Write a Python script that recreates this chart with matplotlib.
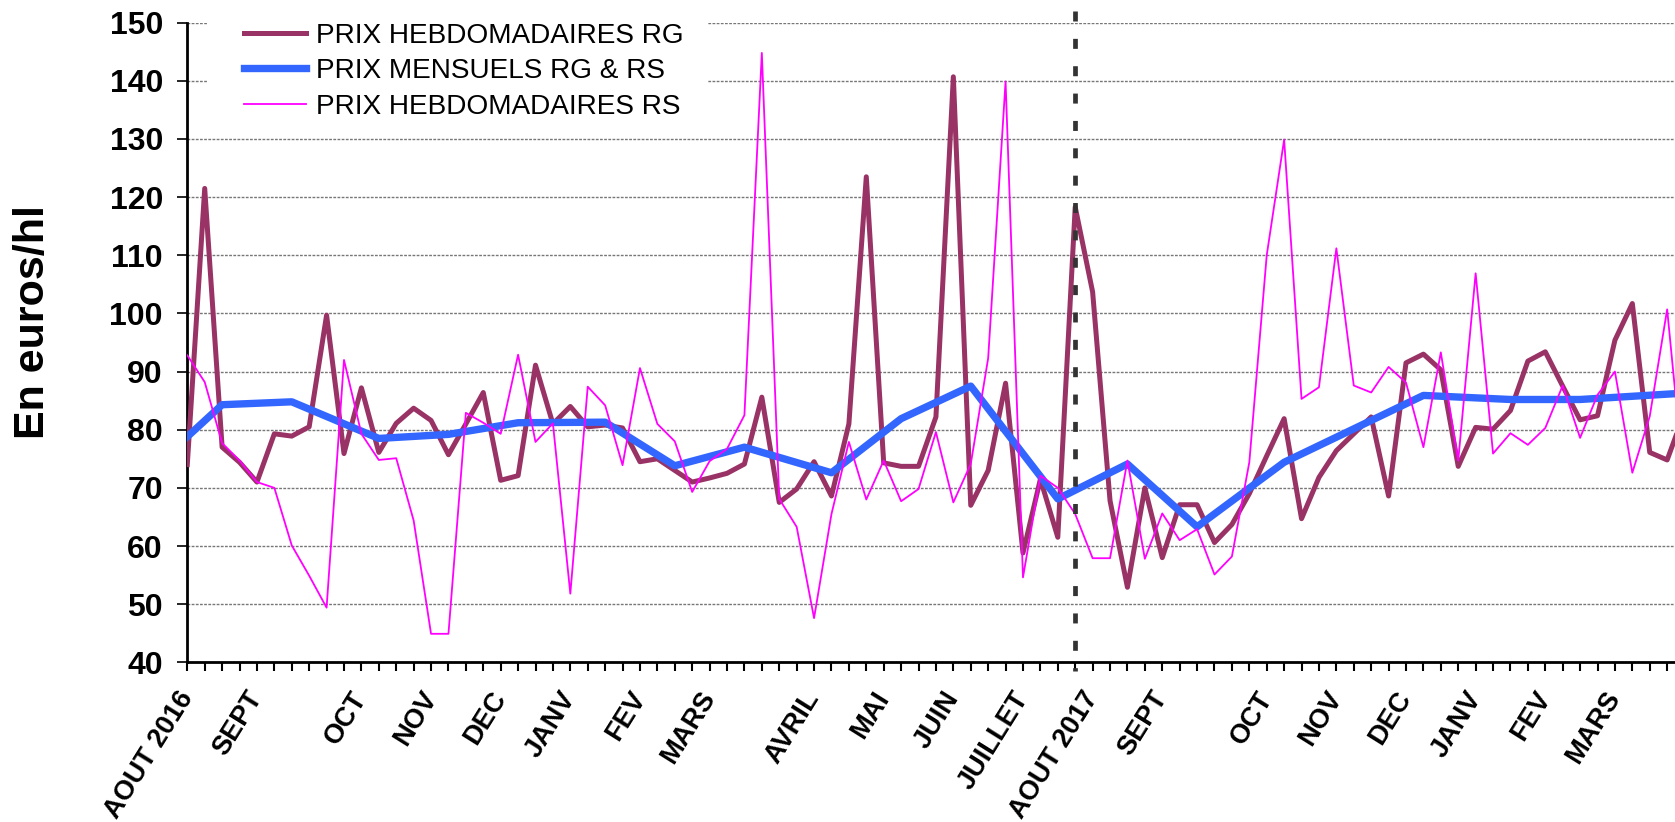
import numpy as np
import matplotlib
matplotlib.use("Agg")
from matplotlib import pyplot as plt
from matplotlib.patches import Rectangle

plt.rcParams['font.family'] = ['Liberation Sans', 'DejaVu Sans']
plt.rcParams['lines.scale_dashes'] = False

# prix hebdomadaires (une valeur par semaine, depuis aout 2016)
prix_rg = [74.0, 121.5, 77.0, 74.4, 71.0, 79.3, 78.9, 80.5, 99.7, 75.9,
           87.2, 76.1, 81.1, 83.7, 81.6, 75.7, 81.0, 86.4, 71.3, 72.1,
           91.1, 81.0, 84.0, 80.5, 80.8, 80.3, 74.5, 75.0, 73.0, 71.0,
           71.7, 72.5, 74.1, 85.6, 67.5, 69.8, 74.5, 68.6, 81.0, 123.5,
           74.3, 73.7, 73.7, 82.2, 140.7, 67.0, 73.0, 88.0, 58.8, 71.5,
           61.5, 118.3, 103.7, 67.8, 52.9, 70.0, 58.0, 67.1, 67.1, 60.6,
           63.7, 69.0, 75.5, 81.9, 64.7, 71.8, 76.4, 79.3, 82.2, 68.6,
           91.5, 93.0, 90.3, 73.7, 80.4, 80.1, 83.3, 91.8, 93.4, 87.5,
           81.7, 82.4, 95.4, 101.7, 76.1, 74.8, 83.0]

prix_rs = [92.8, 88.2, 77.7, 74.7, 71.0, 70.0, 60.1, 54.9, 49.4, 92.0,
           79.3, 74.8, 75.1, 64.4, 44.9, 44.9, 82.9, 81.2, 79.3, 92.9,
           77.9, 81.1, 51.8, 87.4, 84.2, 73.9, 90.6, 81.0, 78.0, 69.3,
           74.6, 76.7, 82.5, 144.8, 68.1, 63.3, 47.6, 65.5, 77.9, 68.0,
           74.7, 67.7, 69.8, 79.6, 67.5, 74.1, 92.3, 139.9, 54.6, 72.1,
           70.0, 65.5, 57.9, 57.9, 74.7, 57.8, 65.6, 61.0, 62.9, 55.1,
           58.2, 74.4, 110.0, 129.9, 85.3, 87.3, 111.2, 87.6, 86.4, 90.8,
           88.1, 77.0, 93.3, 74.7, 106.9, 75.9, 79.4, 77.4, 80.3, 87.6,
           78.6, 86.0, 90.0, 72.6, 82.3, 100.7, 70.0]

# prix mensuels : semaine ou le point est place
mens_sem = [0, 2, 6, 11, 15, 19, 24, 28, 32, 37, 41, 45, 50,
            54, 58, 63, 71, 76, 80, 86]
mens_prix = [78.8, 84.3, 84.8, 78.5, 79.2, 81.2, 81.3, 73.8, 77.0, 72.6, 81.9, 87.5, 68.1,
             74.1, 63.3, 74.4, 85.9, 85.2, 85.2, 86.3]

mois_sem = [0, 4, 10, 14, 18, 22, 26, 30, 36, 40, 44, 48,
            52, 56, 62, 66, 70, 74, 78, 82]
mois_lib = ['AOUT 2016', 'SEPT', 'OCT', 'NOV', 'DEC', 'JANV', 'FEV', 'MARS',
            'AVRIL', 'MAI', 'JUIN', 'JUILLET',
            'AOUT 2017', 'SEPT', 'OCT', 'NOV', 'DEC', 'JANV', 'FEV', 'MARS']
sem_coupure = 51

W, H = 1675, 822
fig = plt.figure(figsize=(W / 100, H / 100), dpi=100)
ax = fig.add_axes([187.3 / W, (H - 662.3) / H, (W - 187.3) / W, 639.6 / H])

sem = np.arange(len(prix_rg))
ax.plot(sem, prix_rg, color='#993366', lw=3.6, label='PRIX HEBDOMADAIRES RG', zorder=3)
ax.plot(mens_sem, mens_prix, color='#3366FF', lw=5.3, label='PRIX MENSUELS RG & RS', zorder=4)
ax.plot(sem, prix_rs, color='#FF00FF', lw=1.3, label='PRIX HEBDOMADAIRES RS', zorder=5)

ax.plot([sem_coupure, sem_coupure], [152, 38.5], color='#333333', lw=3.4,
        linestyle=(0, (7.2, 12.5)), dash_capstyle='butt', clip_on=False, zorder=6)

ax.set_xlim(0, (W - 187.3) / 17.41)
ax.set_ylim(40, 150)
ax.set_yticks(np.arange(40, 151, 10))
ax.set_xticks(sem[:86])
lib = [''] * 86
for s, l in zip(mois_sem, mois_lib):
    lib[s] = l
ax.set_xticklabels(lib, rotation=58, ha='right', va='center', rotation_mode='anchor',
                   fontsize=19.5, fontweight='bold')
for t in ax.get_yticklabels():
    t.set_fontsize(23)
    t.set_fontweight('bold')

ax.yaxis.grid(True, color='#777777', lw=1.0, linestyle=(0, (2, 1)))
ax.set_axisbelow(True)
for s in ['top', 'right']:
    ax.spines[s].set_visible(False)
ax.spines['left'].set_linewidth(2)
ax.spines['bottom'].set_linewidth(2)
ax.tick_params(axis='y', length=7.5, width=1.2, pad=10)
ax.tick_params(axis='x', length=6.5, width=1.5, pad=16)

fig.text(33 / W, 1 - 322 / H, 'En euros/hl', rotation=90, ha='center', va='center',
         fontsize=31, fontweight='bold')

# fond blanc sous la legende (cache la grille)
ax.add_patch(Rectangle((207 / W, 1 - 125 / H), 500 / W, 115 / H,
                       transform=fig.transFigure, facecolor='white',
                       edgecolor='none', zorder=1, clip_on=False))
leg = ax.legend(loc='upper left', bbox_to_anchor=(244 / W, 1 - 23 / H),
                bbox_transform=fig.transFigure, frameon=False, fontsize=20.2,
                handlelength=2.2, handletextpad=0.38, labelspacing=0.33,
                borderpad=0, borderaxespad=0)
leg.set_zorder(7)

fig.savefig('out.png', dpi=100)
